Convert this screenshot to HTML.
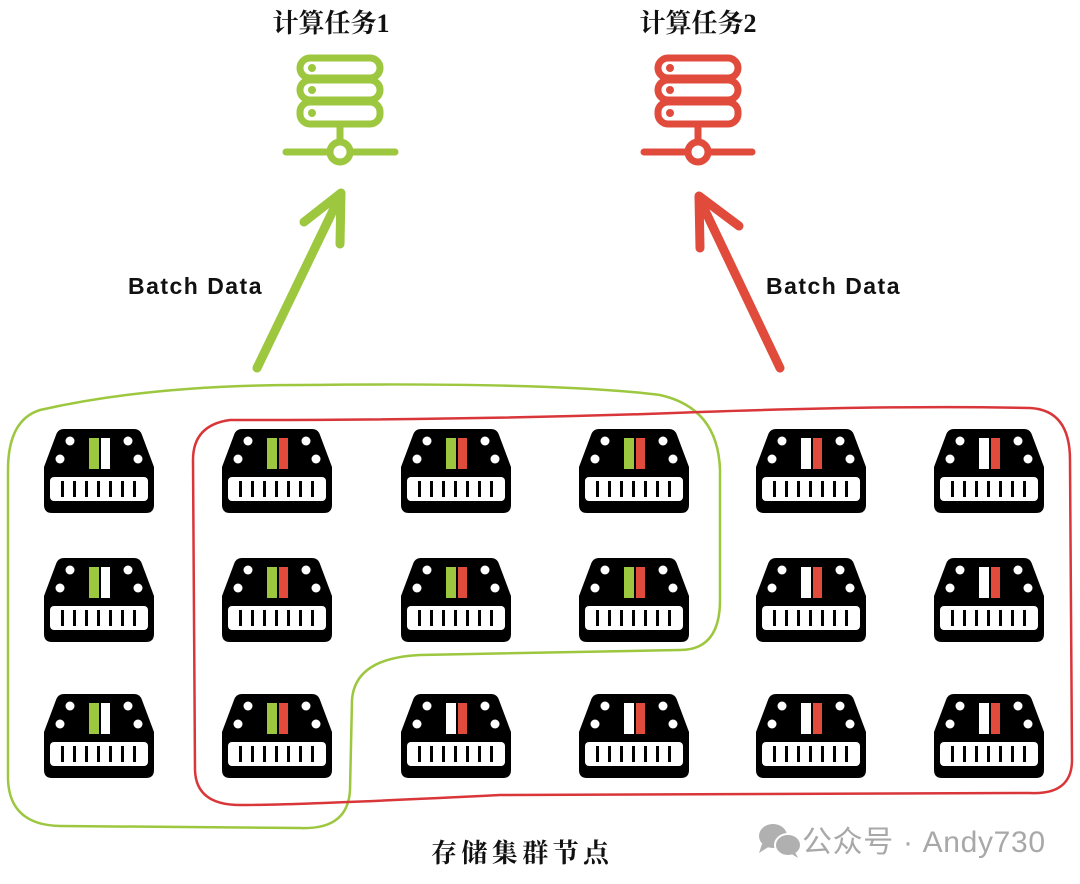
<!DOCTYPE html>
<html><head><meta charset="utf-8"><style>
html,body{margin:0;padding:0;background:#fff;width:1080px;height:884px;overflow:hidden}
svg{display:block}
.t{font-family:"Liberation Serif","Noto Serif CJK SC",serif;font-weight:bold;font-size:26px;fill:#111}
.b{font-family:"Liberation Sans",sans-serif;font-weight:bold;font-size:23px;fill:#111;letter-spacing:0.5px}
.w{font-family:"Liberation Sans","Noto Sans CJK SC",sans-serif;font-size:30px;fill:#a8a8a8}
</style></head><body>
<svg width="1080" height="884" viewBox="0 0 1080 884" xmlns="http://www.w3.org/2000/svg">
<defs>
<g id="d">
<path d="M22,0 H92 Q98,0 100,6 L112,38 V76 Q112,84 104,84 H10 Q2,84 2,76 V38 L14,6 Q16,0 22,0Z" fill="#000"/>
<circle cx="28" cy="12" r="4.5" fill="#fff"/><circle cx="86" cy="12" r="4.5" fill="#fff"/>
<circle cx="18" cy="30" r="4.5" fill="#fff"/><circle cx="96" cy="30" r="4.5" fill="#fff"/>
<rect x="8" y="48" width="98" height="24" rx="4" fill="#fff"/>
<g fill="#000"><rect x="19" y="52" width="3" height="16"/><rect x="31" y="52" width="3" height="16"/><rect x="43" y="52" width="3" height="16"/><rect x="55" y="52" width="3" height="16"/><rect x="67" y="52" width="3" height="16"/><rect x="79" y="52" width="3" height="16"/><rect x="91" y="52" width="3" height="16"/></g>
</g>
<g id="gw"><use href="#d"/><rect x="47" y="9" width="10" height="31" fill="#9cc73f"/><rect x="59" y="9" width="9" height="31" fill="#fff"/></g>
<g id="gr"><use href="#d"/><rect x="47" y="9" width="10" height="31" fill="#9cc73f"/><rect x="59" y="9" width="9" height="31" fill="#e04b3c"/></g>
<g id="wr"><use href="#d"/><rect x="47" y="9" width="10" height="31" fill="#fff"/><rect x="59" y="9" width="9" height="31" fill="#e04b3c"/></g>
</defs>

<text class="t" x="331" y="32" text-anchor="middle">计算任务1</text>
<text class="t" x="698" y="32" text-anchor="middle">计算任务2</text>

<g stroke="#9cc73f" stroke-width="7" fill="none" stroke-linecap="round">
<rect x="300" y="58" width="80" height="20" rx="10"/>
<rect x="300" y="80" width="80" height="20" rx="10"/>
<rect x="300" y="102" width="80" height="22" rx="10"/>
<line x1="340" y1="126" x2="340" y2="142"/>
<circle cx="340" cy="152" r="10"/>
<line x1="286" y1="152" x2="330" y2="152"/><line x1="350" y1="152" x2="395" y2="152"/>
</g>
<g fill="#9cc73f"><circle cx="312" cy="68" r="4"/><circle cx="312" cy="90" r="4"/><circle cx="312" cy="113" r="4"/></g>
<g stroke="#e04b3c" stroke-width="7" fill="none" stroke-linecap="round">
<rect x="658" y="58" width="80" height="20" rx="10"/>
<rect x="658" y="80" width="80" height="20" rx="10"/>
<rect x="658" y="102" width="80" height="22" rx="10"/>
<line x1="698" y1="126" x2="698" y2="142"/>
<circle cx="698" cy="152" r="10"/>
<line x1="644" y1="152" x2="688" y2="152"/><line x1="708" y1="152" x2="752" y2="152"/>
</g>
<g fill="#e04b3c"><circle cx="670" cy="68" r="4"/><circle cx="670" cy="90" r="4"/><circle cx="670" cy="113" r="4"/></g>

<g stroke="#9cc73f" stroke-width="9" fill="none" stroke-linecap="round" stroke-linejoin="round">
<line x1="257" y1="368" x2="340" y2="196"/>
<polyline points="304,222 341,193 340,244"/>
</g>
<g stroke="#e04b3c" stroke-width="9" fill="none" stroke-linecap="round" stroke-linejoin="round">
<line x1="780" y1="368" x2="700" y2="200"/>
<polyline points="739,226 699,196 700,248"/>
</g>
<text class="b" x="128" y="294" textLength="134">Batch Data</text>
<text class="b" x="766" y="294" textLength="134">Batch Data</text>

<use href="#gw" x="42" y="429"/><use href="#gr" x="220" y="429"/><use href="#gr" x="399" y="429"/><use href="#gr" x="577" y="429"/><use href="#wr" x="754" y="429"/><use href="#wr" x="932" y="429"/>
<use href="#gw" x="42" y="558"/><use href="#gr" x="220" y="558"/><use href="#gr" x="399" y="558"/><use href="#gr" x="577" y="558"/><use href="#wr" x="754" y="558"/><use href="#wr" x="932" y="558"/>
<use href="#gw" x="42" y="694"/><use href="#gr" x="220" y="694"/><use href="#wr" x="399" y="694"/><use href="#wr" x="577" y="694"/><use href="#wr" x="754" y="694"/><use href="#wr" x="932" y="694"/>

<path d="M40,410 Q150,385 300,385 Q560,382 660,395 Q718,408 720,470 L720,600 Q720,650 680,650 L420,655 Q355,658 352,700 L350,790 Q348,830 300,828 L60,826 Q10,825 8,780 L8,470 Q8,420 40,410Z" fill="none" stroke="#9cc73f" stroke-width="2.5"/>
<path d="M230,420 Q500,420 700,412 Q900,405 1030,408 Q1070,410 1070,460 L1072,760 Q1072,795 1030,793 L500,795 Q300,805 240,805 Q196,805 195,770 L193,460 Q193,425 230,420Z" fill="none" stroke="#d9363a" stroke-width="2.5"/>

<text class="t" x="520" y="862" text-anchor="middle" textLength="178">存储集群节点</text>

<g fill="#b0b0b0">
<ellipse cx="773" cy="836" rx="14" ry="12"/><path d="M762,844 L759,853 L770,846Z"/>
<ellipse cx="788" cy="845" rx="13" ry="11" stroke="#fff" stroke-width="2"/><path d="M795,852 L798,858 L790,853Z"/>
</g>
<text class="w" x="802" y="852" textLength="243">公众号 · Andy730</text>
</svg>
</body></html>
